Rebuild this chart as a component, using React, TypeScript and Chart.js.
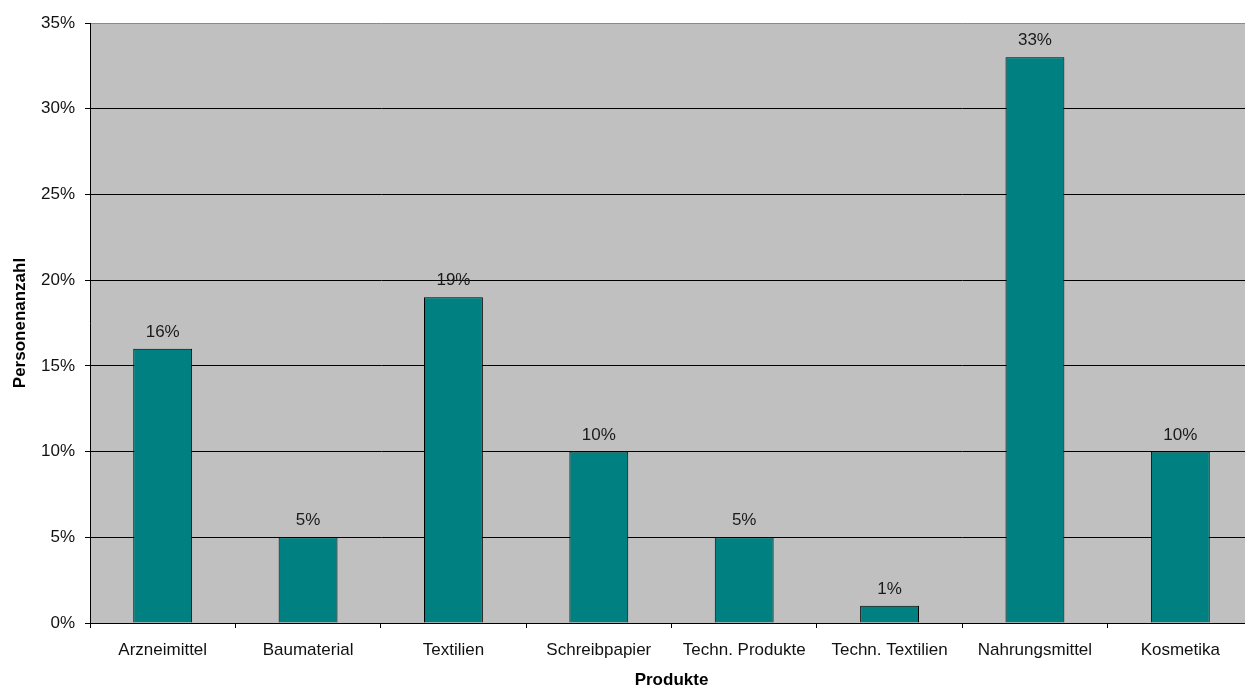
import React, { useEffect, useRef } from "react";
import { Chart, registerables } from "chart.js";

Chart.register(...registerables);

const categories = [
  "Arzneimittel",
  "Baumaterial",
  "Textilien",
  "Schreibpapier",
  "Techn. Produkte",
  "Techn. Textilien",
  "Nahrungsmittel",
  "Kosmetika",
];
const values = [16, 5, 19, 10, 5, 1, 33, 10];
const yMin = 0;
const yMax = 35;
const yStep = 5;
const xTitle = "Produkte";
const yTitle = "Personenanzahl";

const FONT = "'Liberation Sans', Arial, sans-serif";

const dataLabels = {
  id: "dataLabels",
  afterDatasetsDraw(chart: any) {
    const ctx = chart.ctx;
    const meta = chart.getDatasetMeta(0);
    ctx.save();
    ctx.font = `17px ${FONT}`;
    ctx.fillStyle = "#1a1a1a";
    ctx.textAlign = "center";
    ctx.textBaseline = "alphabetic";
    meta.data.forEach((el: any, i: number) => {
      ctx.fillText(`${values[i]}%`, el.x, el.y - 12);
    });
    ctx.restore();
  },
};

export default function App() {
  const ref = useRef<HTMLCanvasElement | null>(null);
  useEffect(() => {
    if (!ref.current) return;
    const chart = new Chart(ref.current, {
      type: "bar",
      data: {
        labels: categories,
        datasets: [
          {
            data: values,
            backgroundColor: "#008080",
            borderColor: "#000000",
            borderWidth: 1,
            categoryPercentage: 1,
            barPercentage: 0.405,
          },
        ],
      },
      options: {
        responsive: false,
        animation: false,
        devicePixelRatio: 1,
        layout: { padding: { left: 0, top: 23, right: 7, bottom: 0 } },
        plugins: {
          legend: { display: false },
          tooltip: { enabled: false },
        },
        scales: {
          x: {
            grid: {
              display: true,
              drawOnChartArea: false,
              drawTicks: true,
              tickLength: 5,
              tickColor: "#000",
              color: "#000",
            },
            border: { display: true, color: "#000", width: 1 },
            ticks: {
              color: "#111",
              font: { family: FONT, size: 17 },
              padding: 12,
              maxRotation: 0,
              autoSkip: false,
            },
            title: {
              display: true,
              text: xTitle,
              color: "#000",
              font: { family: FONT, size: 17, weight: "bold", lineHeight: 0.9 },
              padding: 0,
            },
            afterFit(scale: any) {
              scale.height = 65;
            },
          },
          y: {
            min: yMin,
            max: yMax,
            grid: {
              color: (c: any) =>
                c.tick && c.tick.value === yMax ? "#8a8a8a" : "#000",
              lineWidth: 1,
              drawTicks: true,
              tickLength: 5,
              tickColor: "#000",
            },
            border: { display: true, color: "#000", width: 1 },
            ticks: {
              stepSize: yStep,
              color: "#111",
              font: { family: FONT, size: 17 },
              padding: 10,
              callback: (v: any) => `${v}%`,
            },
            title: {
              display: true,
              text: yTitle,
              color: "#000",
              font: { family: FONT, size: 17, weight: "bold", lineHeight: 1 },
              padding: { top: 12, bottom: 0 },
            },
            afterFit(scale: any) {
              scale.width = 90;
            },
          },
        },
      },
      plugins: [
        dataLabels,
        {
          id: "plotBg",
          beforeDraw(chart: any) {
            const { ctx, chartArea } = chart;
            ctx.save();
            ctx.fillStyle = "#c0c0c0";
            ctx.fillRect(
              chartArea.left,
              chartArea.top,
              chartArea.right - chartArea.left,
              chartArea.bottom - chartArea.top
            );
            ctx.restore();
          },
        },
      ],
    } as any);
    return () => chart.destroy();
  }, []);

  return (
    <div
      style={{
        position: "fixed",
        left: 0,
        top: 0,
        width: 1245,
        height: 688,
        overflow: "hidden",
        background: "#fff",
      }}
    >
      <canvas
        ref={ref}
        width={1260}
        height={688}
        style={{ width: 1260, height: 688, display: "block" }}
      />
    </div>
  );
}
